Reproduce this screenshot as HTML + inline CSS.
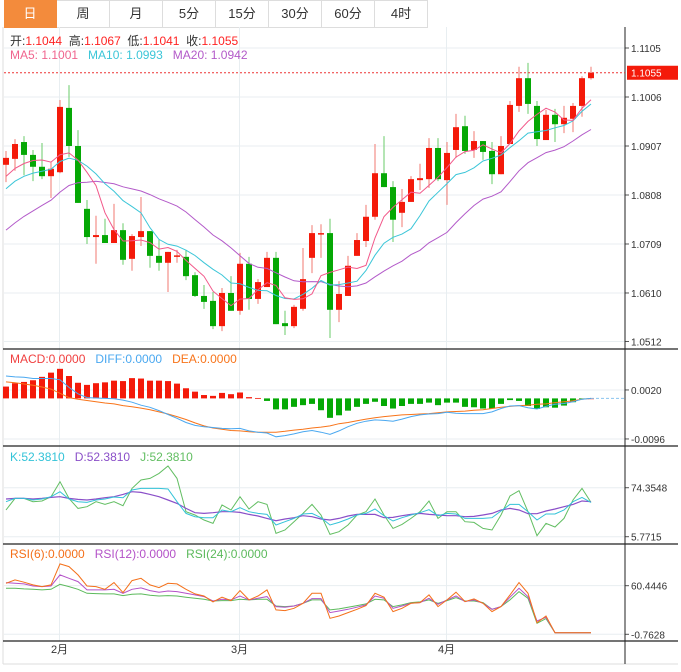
<!DOCTYPE html>
<html><head><meta charset="utf-8"><style>
body{margin:0;background:#fff;width:681px;height:672px;overflow:hidden;font-family:"Liberation Sans","Noto Sans CJK SC",sans-serif}
#tabs{position:absolute;left:4px;top:0;height:27px;display:flex}
.tab{width:52px;height:26px;border:1px solid #ddd;border-left:none;font-size:13px;color:#333;text-align:center;line-height:26px;box-sizing:content-box}
.tab.on{background:#f38b3c;color:#fff;border-color:#f38b3c}
svg{position:absolute;left:0;top:0}
</style></head><body>
<div id="tabs">
<div class="tab on">日</div>
<div class="tab">周</div>
<div class="tab">月</div>
<div class="tab">5分</div>
<div class="tab">15分</div>
<div class="tab">30分</div>
<div class="tab">60分</div>
<div class="tab">4时</div>
</div>
<svg id="c" width="681" height="672"></svg>
<script>
const opens=[1.0869,1.0881,1.0915,1.0889,1.0865,1.0846,1.0854,1.0984,1.0907,1.0780,1.0723,1.0727,1.0711,1.0737,1.0679,1.0723,1.0735,1.0685,1.0671,1.0684,1.0683,1.0646,1.0604,1.0594,1.0543,1.0610,1.0574,1.0669,1.0598,1.0622,1.0681,1.0549,1.0543,1.0578,1.0681,1.0730,1.0731,1.0576,1.0604,1.0685,1.0715,1.0764,1.0852,1.0824,1.0772,1.0794,1.0838,1.0840,1.0903,1.0838,1.0899,1.0947,1.0899,1.0917,1.0897,1.0850,1.0911,1.0988,1.1044,1.0988,1.0919,1.0970,1.0951,1.0962,1.0988,1.1044];
const highs=[1.0897,1.0921,1.0927,1.0899,1.0913,1.0875,1.1000,1.1030,1.0939,1.0798,1.0766,1.0760,1.0790,1.0751,1.0729,1.0804,1.0735,1.0719,1.0693,1.0697,1.0697,1.0652,1.0626,1.0612,1.0620,1.0644,1.0691,1.0683,1.0638,1.0693,1.0693,1.0574,1.0586,1.0701,1.0747,1.0749,1.0760,1.0634,1.0685,1.0731,1.0788,1.0911,1.0927,1.0836,1.0820,1.0846,1.0871,1.0923,1.0923,1.0915,1.0972,1.0968,1.0937,1.0917,1.0915,1.0927,1.0998,1.1067,1.1075,1.0998,1.0980,1.0982,1.0988,1.0994,1.1048,1.1067];
const lows=[1.0834,1.0857,1.0848,1.0836,1.0840,1.0802,1.0852,1.0885,1.0792,1.0709,1.0669,1.0711,1.0711,1.0667,1.0655,1.0705,1.0661,1.0655,1.0612,1.0671,1.0636,1.0602,1.0578,1.0537,1.0533,1.0574,1.0566,1.0576,1.0588,1.0622,1.0547,1.0525,1.0539,1.0574,1.0650,1.0681,1.0519,1.0551,1.0604,1.0685,1.0703,1.0758,1.0824,1.0713,1.0743,1.0794,1.0818,1.0822,1.0836,1.0788,1.0883,1.0891,1.0883,1.0879,1.0830,1.0850,1.0911,1.0976,1.0972,1.0907,1.0919,1.0915,1.0933,1.0935,1.0966,1.1041];
const closes=[1.0883,1.0911,1.0889,1.0865,1.0846,1.0861,1.0986,1.0907,1.0792,1.0723,1.0727,1.0711,1.0737,1.0677,1.0725,1.0735,1.0685,1.0671,1.0693,1.0686,1.0644,1.0604,1.0592,1.0543,1.0610,1.0574,1.0669,1.0598,1.0632,1.0681,1.0547,1.0543,1.0582,1.0638,1.0731,1.0731,1.0576,1.0608,1.0665,1.0717,1.0764,1.0852,1.0824,1.0758,1.0794,1.0840,1.0842,1.0903,1.0840,1.0893,1.0945,1.0897,1.0917,1.0895,1.0850,1.0907,1.0990,1.1044,1.0992,1.0921,1.0970,1.0951,1.0964,1.0988,1.1044,1.1055];
const priorCloses=[1.0620,1.0630,1.0640,1.0625,1.0650,1.0660,1.0640,1.0680,1.0700,1.0690,1.0760,1.0790,1.0800,1.0810,1.0820,1.0830,1.0840,1.0835,1.0840];
const macdBars=[.0028,.0036,.0039,.0043,.0051,.0061,.0070,.0053,.0037,.0032,.0036,.0038,.0042,.0041,.0048,.0047,.0042,.0042,.0041,.0035,.0024,.0016,.0008,.0006,.0013,.0010,.0014,.0003,.0001,-.0006,-.0026,-.0026,-.0020,-.0016,-.0013,-.0028,-.0046,-.0040,-.0029,-.0020,-.0013,-.0008,-.0018,-.0024,-.0018,-.0013,-.0013,-.0010,-.0016,-.0010,-.0010,-.0020,-.0021,-.0024,-.0024,-.0013,-.0004,-.0006,-.0018,-.0025,-.0021,-.0022,-.0017,-.0009,-.0002,0];
const diff=[.0053,.0051,.0050,.0047,.0047,.0047,.0044,.0026,.0011,.0002,.0001,0,-.0001,-.0004,-.0009,-.0016,-.0021,-.0029,-.0038,-.0047,-.0057,-.0064,-.0067,-.0069,-.0071,-.0072,-.0071,-.0077,-.0080,-.0082,-.0091,-.0088,-.0084,-.0079,-.0076,-.0080,-.0085,-.0077,-.0067,-.0059,-.0054,-.0051,-.0052,-.0054,-.0049,-.0043,-.0039,-.0037,-.0036,-.0033,-.0035,-.0036,-.0036,-.0036,-.0032,-.0024,-.0018,-.0017,-.0022,-.0025,-.0019,-.0014,-.0012,-.0008,-.0002,0];
const dea=[.0039,.0037,.0034,.0031,.0027,.0022,.0012,.0002,-.0002,-.0005,-.0008,-.0011,-.0013,-.0017,-.0020,-.0023,-.0027,-.0032,-.0037,-.0043,-.0050,-.0058,-.0065,-.0070,-.0073,-.0076,-.0077,-.0079,-.0080,-.0080,-.0080,-.0078,-.0075,-.0073,-.0070,-.0068,-.0065,-.0060,-.0057,-.0053,-.0049,-.0046,-.0043,-.0041,-.0039,-.0038,-.0037,-.0036,-.0034,-.0032,-.0031,-.0030,-.0028,-.0027,-.0024,-.0021,-.0019,-.0017,-.0016,-.0014,-.0013,-.0010,-.0008,-.0006,-.0002,0];
const kVals=[54.8,59.4,59.4,57.1,58.5,61.8,68.8,58.5,54.8,53.8,57.1,58.5,61.3,60.4,71.1,73.4,73.4,73.4,72.5,54.8,38.4,33.8,32.4,32.4,43.1,40.8,46.4,40.8,38.4,37.0,22.1,26.8,31.4,37.5,38.4,32.4,22.1,25.8,30.5,36.1,38.4,44.5,35.2,27.7,32.4,36.1,39.4,43.6,35.2,38.4,37.5,31.4,31.4,31.4,32.4,41.7,51.0,51.0,40.8,29.1,37.5,37.5,43.1,54.8,60.8,53.8];
const dVals=[58.5,59.4,59.4,58.5,59.4,60.8,61.8,59.4,58.0,57.1,58.5,60.4,61.8,65.0,68.8,67.8,65.0,61.8,57.1,52.4,45.4,39.4,38.4,39.4,40.8,40.8,39.8,37.0,34.7,31.4,28.2,30.5,32.4,35.2,33.8,30.5,29.1,31.4,34.7,37.0,37.0,37.0,32.4,32.8,35.2,37.0,38.4,37.0,36.1,35.2,35.2,33.8,34.2,36.1,38.4,43.1,45.4,43.1,38.0,38.0,41.7,44.5,47.8,51.0,55.7,54.8];
const jVals=[43.1,59.4,59.4,54.8,55.7,61.8,82.8,59.4,45.4,47.8,54.8,51.0,54.8,49.2,73.4,85.1,87.4,94.4,104.7,87.4,40.8,36.1,29.1,24.4,50.1,43.1,61.8,44.5,54.8,51.0,10.4,15.1,26.8,38.4,51.0,36.1,9.0,12.8,22.1,36.1,40.8,58.5,36.1,17.4,23.0,31.4,40.8,55.7,31.4,40.8,40.8,26.8,25.8,17.4,15.1,36.1,62.7,70.2,40.8,7.2,24.4,19.3,31.4,57.1,73.4,53.8];
const rsi6=[63.5,67.7,64.8,61.4,59.3,61.4,87.9,84.5,74.0,60.1,59.3,55.9,64.3,51.7,66.9,69.8,61.4,58.0,63.5,62.7,55.9,50.1,47.5,40.0,45.9,41.7,54.3,42.5,47.5,55.1,29.9,29.1,32.0,38.3,50.9,50.9,19.4,22.3,26.5,30.7,35.4,50.9,45.9,27.8,32.0,38.3,39.1,48.8,34.1,42.5,52.2,40.4,43.8,38.3,27.8,34.1,48.8,64.3,50.9,13.9,22.3,1.3,1.3,1.3,1.3,1.3];
const rsi12=[64.3,63.5,62.7,60.1,59.3,60.1,74.0,69.8,65.6,55.1,55.1,55.1,55.9,50.9,55.9,57.6,54.3,52.2,53.8,53.0,50.9,48.8,46.7,41.2,43.3,42.5,47.5,42.5,44.6,46.7,34.1,33.3,34.9,38.3,44.2,44.2,26.5,28.6,30.7,33.3,36.2,47.5,44.6,32.0,34.9,38.3,39.1,44.6,37.0,42.5,47.5,40.4,42.5,38.3,30.7,34.1,45.9,57.2,46.7,16.0,20.7,1.3,1.3,1.3,1.3,1.3];
const rsi24=[57.2,57.2,56.4,55.9,55.1,55.9,62.2,59.3,55.9,50.9,50.5,50.1,50.1,48.0,49.6,50.1,48.4,47.5,48.0,47.5,45.9,44.6,43.3,41.2,41.7,41.7,43.3,42.5,43.3,43.3,34.9,34.1,34.9,38.3,42.5,42.5,29.9,31.2,33.3,35.4,37.5,43.3,42.5,34.1,36.2,39.1,40.0,42.5,38.3,41.7,45.4,41.2,41.2,39.1,30.7,34.1,42.5,53.0,44.6,13.1,19.0,1.3,1.3,1.3,1.3,1.3];
const priceTicks=[1.1105,1.1006,1.0907,1.0808,1.0709,1.0610,1.0512];
const macdTicks=[0.0020,-0.0096];
const kdjTicks=[74.3548,5.7715];
const rsiTicks=[60.4446,-0.7628];
const monthLabels=["2月","3月","4月"];
const monthIndex=[6,26,49];

const NS="http://www.w3.org/2000/svg";
const svg=document.getElementById('c');
function mk(tag,attrs,parent){const e=document.createElementNS(NS,tag);for(const k in attrs)e.setAttribute(k,attrs[k]);(parent||svg).appendChild(e);return e;}
const X=i=>6+9*i;
const AX=625;
const yP=p=>97+(1.1006-p)*4949;
const yM=v=>398.4-v*4224;
const yK=v=>536.7-(v-5.7715)/1.4;
const yR=v=>634.3-(v+0.7628)/1.259;
const fmt=(v,d)=>v.toFixed(d);

// frame
let e;
e=mk('line',{x1:3,y1:27,x2:3,y2:664,stroke:'#ddd'});

e=mk('line',{x1:3,y1:664,x2:678,y2:664,stroke:'#ddd'});

// vertical month grid
monthIndex.forEach((mi,k)=>{
  const x=X(mi)-0.5+(k==2?0:0);
  e=mk('line',{x1:x,y1:27,x2:x,y2:641,stroke:'#e8eef1'});
  
  e=mk('text',{x:x,y:653,'font-size':11,fill:'#333','text-anchor':'middle'});e.textContent=monthLabels[k];
  
});
function hgrid(y,label,name){
  e=mk('line',{x1:4,y1:y,x2:AX,y2:y,stroke:'#e8eef1'});
  
  e=mk('line',{x1:AX,y1:y,x2:AX+4,y2:y,stroke:'#555'});
  e=mk('text',{x:AX+6,y:y+4,'font-size':10,fill:'#333'});e.textContent=label;
  
}
priceTicks.forEach(p=>hgrid(yP(p),fmt(p,4),'price'));
macdTicks.forEach(p=>hgrid(yM(p),fmt(p,4),'macd'));
kdjTicks.forEach(p=>hgrid(yK(p),fmt(p,4),'kdj'));
rsiTicks.forEach(p=>hgrid(yR(p),fmt(p,4),'rsi'));
// separators
[349,446,544,641].forEach(y=>{e=mk('line',{x1:3,y1:y,x2:678,y2:y,stroke:'#222','stroke-width':1.2});
});
e=mk('line',{x1:AX,y1:27,x2:AX,y2:664,stroke:'#222'});


// candles
const UP='#f41a0a',DN='#05a805';
for(let i=0;i<closes.length;i++){
  const up=closes[i]>=opens[i];const col=up?UP:DN;
  const g=mk('g',{});
  
  mk('line',{x1:X(i),x2:X(i),y1:yP(highs[i]),y2:yP(lows[i]),stroke:up?'#f27a72':'#6acb6a'},g);
  const t=Math.min(yP(opens[i]),yP(closes[i]));const h=Math.max(1.5,Math.abs(yP(opens[i])-yP(closes[i])));
  mk('rect',{x:X(i)-3,y:t,width:6,height:h,fill:col},g);
}
// MAs
const all=priorCloses.concat(closes);
function ma(n){return closes.map((c,i)=>{const j=i+priorCloses.length;let s=0;for(let k=j-n+1;k<=j;k++)s+=all[k];return s/n;});}
function line(vals,yf,col,name,w){
  const d=vals.map((v,i)=>(i?'L':'M')+X(i).toFixed(1)+','+yf(v).toFixed(1)).join('');
  const p=mk('path',{d:d,fill:'none',stroke:col,'stroke-width':w||1});
  
}
line(ma(20),yP,'#b35ac9','ma20-line');
line(ma(10),yP,'#3cc6d8','ma10-line');
line(ma(5),yP,'#f2588a','ma5-line');
// last price
const ly=yP(closes[closes.length-1]);
e=mk('line',{x1:4,y1:ly,x2:AX,y2:ly,stroke:'#e33','stroke-dasharray':'2,2'});

e=mk('rect',{x:AX+2,y:ly-7,width:51,height:14,fill:'#f41a0a'});

e=mk('text',{x:AX+6,y:ly+4,'font-size':10,fill:'#fff'});e.textContent=fmt(closes[closes.length-1],4);

// MACD
macdBars.forEach((v,i)=>{
  const y0=yM(0),y1=yM(v);
  const r=mk('rect',{x:X(i)-3,y:Math.min(y0,y1),width:6,height:Math.max(0.8,Math.abs(y1-y0)),fill:v>=0?UP:DN});
  
});
e=mk('line',{x1:X(macdBars.length-1),y1:yM(0),x2:AX,y2:yM(0),stroke:'#8ac4ef','stroke-dasharray':'3,2'});
line(dea,yM,'#f8741a','dea-line');
line(diff,yM,'#4aa8f0','diff-line');
// KDJ
line(jVals,yK,'#62be62','kdj-j-line');
line(dVals,yK,'#8a4fc8','kdj-d-line',1.2);
line(kVals,yK,'#33c3d8','kdj-k-line');
// RSI
line(rsi24,yR,'#5cba5c','rsi24-line');
line(rsi12,yR,'#b452c8','rsi12-line');
line(rsi6,yR,'#f4701a','rsi6-line');

// legends
function legend(y,parts,name){
  const t=mk('text',{x:10,y:y,'font-size':12});
  
  parts.forEach(([s,c])=>{const ts=mk('tspan',{fill:c},t);ts.textContent=s;});
}
legend(45,[['开:','#333'],['1.1044','#f22'],['  高:','#333'],['1.1067','#f22'],['  低:','#333'],['1.1041','#f22'],['  收:','#333'],['1.1055','#f22']],'ohlc-legend');
legend(59,[['MA5: 1.1001','#f0648e'],['   MA10: 1.0993','#3cc6d8'],['   MA20: 1.0942','#b35ac9']],'ma-legend');
legend(363,[['MACD:0.0000','#f04040'],['   DIFF:0.0000','#4aa8f0'],['   DEA:0.0000','#f8741a']],'macd-legend');
legend(461,[['K:52.3810','#33c3d8'],['   D:52.3810','#8a4fc8'],['   J:52.3810','#62be62']],'kdj-legend');
legend(558,[['RSI(6):0.0000','#f4701a'],['   RSI(12):0.0000','#b452c8'],['   RSI(24):0.0000','#5cba5c']],'rsi-legend');
document.querySelectorAll('#c tspan').forEach(t=>t.setAttribute('xml:space','preserve'));
document.querySelectorAll('#c text').forEach(t=>t.setAttribute('style','white-space:pre'));
</script>
</body></html>
